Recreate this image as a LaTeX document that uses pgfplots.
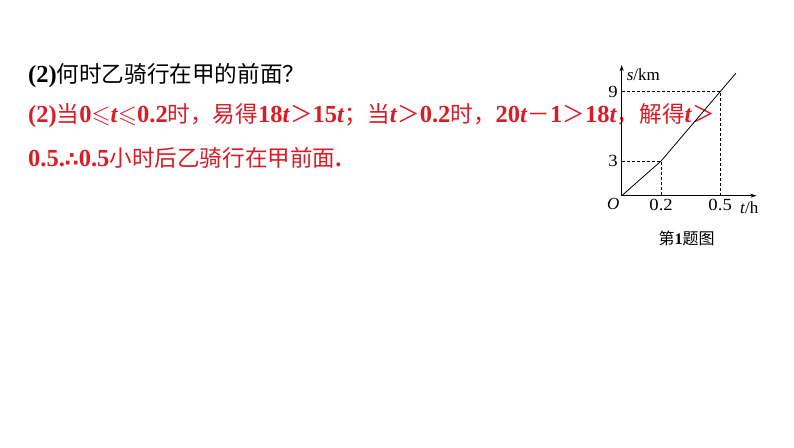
\documentclass[border=0pt]{standalone}
\usepackage{amssymb}
\usepackage{pgfplots}
\pgfplotsset{compat=1.18}
\usetikzlibrary{arrows.meta}
\usepackage{fontspec}
\setmainfont{Liberation Serif}
\newfontfamily\cjk{Noto Sans CJK SC}
\newfontfamily\sym{DejaVu Sans}
\definecolor{ansred}{RGB}{218,28,38}
\newcommand\zh[1]{{\fontsize{22.6}{26}\selectfont\cjk #1}}
\newcommand\bt{\textbf{\textit{t}}}

\begin{document}
\begin{tikzpicture}
\fill[white] (0pt,0pt) rectangle (794pt,447pt);

% question and answer text
\begin{scope}[every node/.style={anchor=west,inner sep=0pt,font=\fontsize{24.5}{26}\selectfont}]
\node at (28pt,371pt) {\textbf{(2)}\zh{何时乙骑行在甲的前面？}};
\node[text=ansred] at (28pt,331pt) {\textbf{(2)}\zh{当}\textbf{0}$\leqslant$\bt$\leqslant$\textbf{0.2}\zh{时，易得}\textbf{18}\bt\zh{＞}\textbf{15}\bt\zh{；当}\bt\zh{＞}\textbf{0.2}\zh{时，}\textbf{20}\bt\zh{－}\textbf{1}\zh{＞}\textbf{18}\bt\zh{，解得}\bt\zh{＞}};
\node[text=ansred] at (28pt,289pt) {\textbf{0.5.}{\sym\bfseries\fontsize{20}{20}\selectfont ∴}\textbf{0.5}\zh{小时后乙骑行在甲前面}\textbf{.}};
\end{scope}

\begin{axis}[
    at={(621.7pt,251.3pt)}, anchor=south west,
    scale only axis,
    width=134.7pt, height=130.6pt,
    xmin=0, xmax=0.684,
    ymin=0, ymax=11.3,
    axis lines=left,
    axis line style={-{Stealth[length=6pt,width=4pt]}, line width=0.7pt},
    xtick={0.2,0.5}, ytick={3,9},
    major tick length=0pt,
    tick label style={font=\fontsize{17}{17}\selectfont, xscale=1.1},
    /pgf/number format/assume math mode=true,
    clip=false,
]
\addplot[black, line width=0.8pt] coordinates {(0,0) (0.2,3) (0.5,9) (0.58,10.6)};
\draw[dashed, dash pattern=on 3pt off 2pt, line width=0.6pt]
    (axis cs:0,3) -- (axis cs:0.2,3) -- (axis cs:0.2,0);
\draw[dashed, dash pattern=on 3pt off 2pt, line width=0.6pt]
    (axis cs:0,9) -- (axis cs:0.5,9) -- (axis cs:0.5,0);
\node[anchor=north east, inner sep=2pt, font=\fontsize{17}{17}\selectfont] at (axis cs:0,0) {\textit{O}};
\node[anchor=west, inner sep=0pt, font=\fontsize{17}{17}\selectfont] at (axis cs:0.025,10.5) {\textit{s}/km};
\node[anchor=north west, inner sep=0pt, font=\fontsize{17}{17}\selectfont] at (axis cs:0.6,-0.5) {\textit{t}/h};
\node[font=\fontsize{16}{16}\selectfont] at (axis cs:0.33,-3.7) {\zh{\fontsize{16}{16}\selectfont 第}\textbf{1}\zh{\fontsize{16}{16}\selectfont 题图}};
\end{axis}
\end{tikzpicture}
\end{document}
